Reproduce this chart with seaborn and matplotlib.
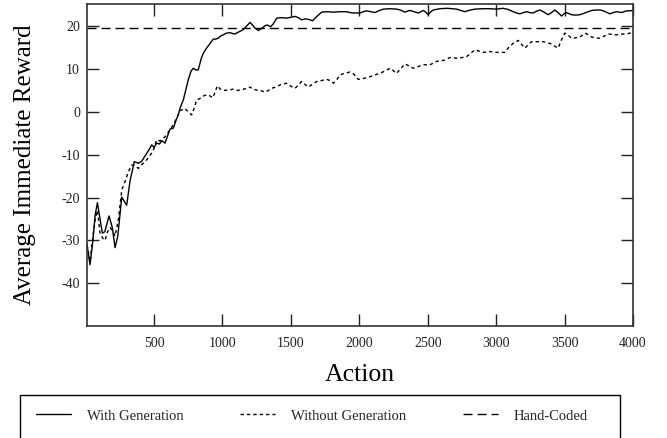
import numpy as np
import pandas as pd
import matplotlib
matplotlib.use("Agg")
import matplotlib.pyplot as plt
import matplotlib.patches as mpatches
import seaborn as sns

# ---------------- data ----------------
with_gen_x = [10, 32, 50, 70, 86, 105, 122, 140, 171, 195, 215, 235, 264, 285, 300, 325,
              356, 385, 410, 434, 460, 483, 500, 519, 540, 556, 580, 600, 617, 641, 660,
              677, 690, 714, 735, 750, 770, 787, 805, 823, 845, 860, 884, 910, 933, 950,
              969, 990, 1006, 1030, 1055, 1075, 1091, 1120, 1152, 1175, 1201, 1220, 1237,
              1262, 1290, 1310, 1327, 1352, 1370, 1396, 1430, 1469, 1500, 1530, 1555,
              1578, 1600, 1615, 1640, 1659, 1690, 1725, 1760, 1810, 1860, 1907, 1931,
              1955, 2004, 2030, 2053, 2085, 2114, 2140, 2175, 2220, 2272, 2300, 2333,
              2350, 2370, 2400, 2430, 2450, 2467, 2485, 2503, 2520, 2540, 2590, 2638,
              2680, 2711, 2740, 2771, 2800, 2844, 2900, 2954, 3003, 3051, 3090, 3124,
              3150, 3173, 3200, 3222, 3245, 3270, 3295, 3319, 3350, 3380, 3405, 3429,
              3455, 3478, 3495, 3514, 3535, 3551, 3580, 3612, 3640, 3672, 3700, 3733,
              3760, 3782, 3805, 3830, 3855, 3879, 3900, 3916, 3935, 3952, 3975, 4000]
with_gen_y = [-31, -35.7, -31, -24, -21.2, -25, -28.3, -28, -24.3, -27, -31.7, -29, -19.9,
              -21, -21.8, -16, -11.6, -12, -11.5, -10.3, -9, -7.7, -8.3, -7.3, -7.5, -6.7,
              -7.3, -5.5, -4, -3.8, -2, -0.7, 0.9, 2.8, 5.5, 7.5, 9.5, 10.2, 9.8, 9.8,
              12.5, 13.7, 14.9, 16, 17, 17, 17.2, 17.8, 18, 18.4, 18.5, 18.3, 18.2, 18.7,
              19.2, 20, 20.9, 20.3, 19.6, 19, 19.6, 20.1, 20.3, 19.9, 20.5, 21.9, 22,
              21.9, 22.1, 22.3, 22.0, 21.5, 21.7, 21.7, 21.5, 21.3, 22.3, 23.3, 23.4,
              23.3, 23.4, 23.4, 23.2, 23.1, 23.1, 23.4, 23.6, 23.4, 23.2, 23.6, 24, 24.1,
              24, 23.8, 23.3, 23.5, 23.7, 23.4, 23.1, 23.4, 23.7, 23.3, 22.7, 23.3, 23.8,
              24.1, 24.2, 24.1, 24, 23.7, 23.4, 23.7, 24, 24.1, 24.1, 24, 24.2, 23.9,
              23.4, 23.1, 22.9, 23.2, 23.4, 23.2, 23.1, 23.5, 23.8, 23.3, 22.7, 23.2,
              23.8, 23.1, 22.4, 22.9, 23.2, 22.9, 22.7, 22.6, 22.7, 23.0, 23.4, 23.7,
              23.8, 23.8, 23.6, 23.3, 22.9, 23.2, 23.4, 23.3, 23.2, 23.4, 23.6, 23.6,
              23.7]

without_gen_x = [10, 32, 50, 70, 86, 105, 125, 142, 160, 180, 200, 215, 240, 264, 288, 312,
                 337, 360, 385, 410, 446, 483, 500, 519, 545, 580, 617, 640, 665, 690,
                 726, 750, 775, 795, 811, 840, 860, 884, 905, 928, 945, 962, 985, 1006,
                 1040, 1079, 1110, 1152, 1180, 1201, 1225, 1250, 1280, 1310, 1335, 1359,
                 1390, 1420, 1445, 1469, 1500, 1530, 1555, 1578, 1600, 1627, 1660, 1688,
                 1720, 1761, 1790, 1810, 1835, 1858, 1890, 1931, 1960, 1992, 2030, 2077,
                 2110, 2150, 2190, 2224, 2250, 2272, 2300, 2333, 2360, 2394, 2430, 2467,
                 2490, 2516, 2540, 2565, 2625, 2662, 2690, 2723, 2750, 2784, 2815, 2844,
                 2875, 2905, 2930, 2954, 2980, 3003, 3035, 3063, 3090, 3124, 3161, 3185,
                 3210, 3235, 3258, 3300, 3343, 3370, 3392, 3420, 3453, 3475, 3502, 3530,
                 3551, 3580, 3612, 3630, 3648, 3675, 3697, 3725, 3758, 3790, 3818, 3850,
                 3879, 3910, 3940, 3965, 3989, 4000]
without_gen_y = [-31, -35, -30, -25, -23, -28.3, -29.5, -30, -28, -27, -28, -29, -25, -18.2,
                 -16.3, -14, -12.4, -12.5, -13.2, -12.3, -11.2, -9.6, -8.5, -6.5, -6.8,
                 -5.8, -4.2, -3, -1.5, 0.3, 0.8, 0, -0.7, 1, 2.8, 3.2, 3.7, 4, 3.8, 3.3,
                 4.5, 6.1, 5.3, 5, 5.1, 5.3, 5, 5.3, 5.5, 5.8, 5.3, 5.1, 5, 4.6, 5, 5.5,
                 5.8, 6.3, 6.5, 6.7, 6, 5.5, 6.3, 7.1, 6.5, 5.8, 6.5, 7.1, 7.3, 7.6, 7.3,
                 6.7, 7.5, 8.6, 9, 9.3, 8.8, 7.6, 7.8, 8.2, 8.6, 9, 9.6, 10.2, 9.6, 9, 10,
                 11.2, 10.8, 10.2, 10.6, 11, 11, 11, 11.4, 11.8, 12.1, 12.7, 12.6, 12.5,
                 12.7, 12.9, 13.7, 14.5, 14.2, 13.9, 14, 14.1, 14, 13.9, 13.9, 13.9, 15,
                 16, 16.7, 15.8, 14.9, 15.7, 16.4, 16.4, 16.4, 16.2, 16, 15.5, 14.9, 16.7,
                 18.4, 17.8, 17.2, 17.3, 17.5, 17.9, 18.4, 18, 17.5, 17.3, 17.2, 17.7,
                 18.2, 18.1, 18, 18.1, 18.2, 18.3, 18.5, 18.6]

hand_coded_x = [10, 4000]
hand_coded_y = [19.6, 19.6]

x_ticks = [500, 1000, 1500, 2000, 2500, 3000, 3500, 4000]
y_ticks = [-40, -30, -20, -10, 0, 10, 20]

series_labels = ["With Generation", "Without Generation", "Hand-Coded"]

# ---------------- style ----------------
sns.set_theme(style="ticks")
plt.rcParams["font.family"] = ["Liberation Serif", "DejaVu Serif"]

W, H = 667, 438
fig = plt.figure(figsize=(W / 100, H / 100), dpi=100)
ax = fig.add_axes([87 / W, 1 - 326 / H, (633 - 87) / W, (326 - 4) / H])

dotted = (0, (2.4, 2.2))
dashed = (0, (6.5, 3.6))

sns.lineplot(x=without_gen_x, y=without_gen_y, ax=ax, color="black", lw=1.0,
             linestyle=dotted, label=series_labels[1], sort=False)
sns.lineplot(x=hand_coded_x, y=hand_coded_y, ax=ax, color="black", lw=1.0,
             linestyle=dashed, label=series_labels[2], sort=False)
sns.lineplot(x=with_gen_x, y=with_gen_y, ax=ax, color="black", lw=1.0,
             linestyle="-", label=series_labels[0], sort=False)

ax.set_xlim(10, 4000)
ax.set_ylim(-50, 25.2)
ax.set_xticks(x_ticks)
ax.set_yticks(y_ticks)
ax.set_xticklabels([str(t) for t in x_ticks])
ax.set_yticklabels([str(t) for t in y_ticks])

ax.tick_params(direction="in", length=8.5, width=1.0, top=True, right=True,
               labeltop=False, labelright=False, color="#222222",
               labelsize=10, labelcolor="#222222")
ax.tick_params(axis="x", pad=8)
ax.tick_params(axis="y", pad=5)
for sp in ax.spines.values():
    sp.set_visible(True)
    sp.set_color("#333333")
    sp.set_linewidth(1.2)

ax.set_xlabel("Action", fontsize=18.5, color="black")
ax.xaxis.label.set_va("center")
ax.xaxis.set_label_coords(0.5, -0.152)
ax.set_ylabel("Average Immediate Reward", fontsize=18, color="black")
ax.yaxis.label.set_va("center")
ax.yaxis.set_label_coords(-62 / 546, 0.5)

# legend
handles, labels = ax.get_legend_handles_labels()
order = [labels.index(l) for l in series_labels]
handles = [handles[i] for i in order]
labels = [labels[i] for i in order]
ax.get_legend().remove()

fig.legend(handles, labels, loc="center", ncol=3, mode="expand",
           bbox_to_anchor=(36 / W, 1 - 416 / H - 0.02, (588 - 36) / W, 0.04),
           frameon=False, fontsize=10.5, handlelength=2.4, handletextpad=1.1,
           borderpad=0, borderaxespad=0)
rect = mpatches.Rectangle((20 / W, -0.05), 600 / W, 0.05 + (1 - 395 / H),
                          transform=fig.transFigure, fill=False,
                          edgecolor="black", lw=1.0, clip_on=False)
fig.patches.append(rect)

fig.savefig("out.png", dpi=100)
